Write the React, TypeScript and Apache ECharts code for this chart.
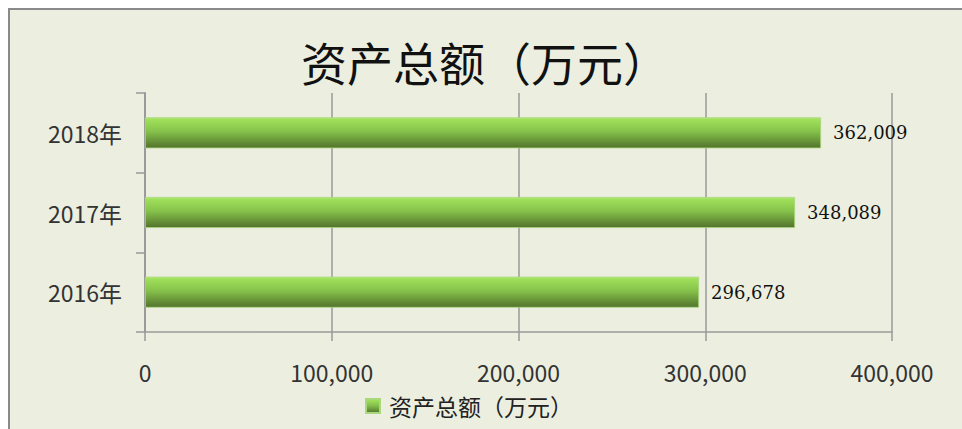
import React, { useEffect, useRef } from "react";
import * as echarts from "echarts";

const categories = ["2016年", "2017年", "2018年"];
const values = [296678, 348089, 362009];
const seriesName = "资产总额（万元）";
const titleText = "资产总额（万元）";

const fmt = (v: number) => v.toLocaleString("en-US");

export default function App() {
  const ref = useRef<HTMLDivElement>(null);
  useEffect(() => {
    if (!ref.current) return;
    const chart = echarts.init(ref.current, undefined, { renderer: "svg" });
    const barGrad = new echarts.graphic.LinearGradient(0, 0, 0, 1, [
      { offset: 0, color: "#b4ea7c" },
      { offset: 0.06, color: "#9fe05a" },
      { offset: 0.45, color: "#86c24b" },
      { offset: 1, color: "#52732c" },
    ]);
    const gray = "#9a9a9a";
    chart.setOption({
      animation: false,
      backgroundColor: "transparent",
      title: {
        text: titleText,
        left: 296,
        top: 30,
        textStyle: {
          fontFamily: "Noto Sans CJK SC",
          fontSize: 46,
          fontWeight: "normal",
          color: "#111",
          lineHeight: 52,
        },
      },
      legend: {
        left: 365,
        top: 394,
        padding: 0,
        itemWidth: 14,
        itemHeight: 14,
        icon: "rect",
        textStyle: {
          fontFamily: "Noto Sans CJK SC",
          fontSize: 23,
          lineHeight: 24,
          color: "#222",
          padding: [0, 0, 0, 4],
        },
        data: [seriesName],
      },
      grid: { left: 145, right: 70, top: 93, bottom: 97, containLabel: false },
      xAxis: {
        type: "value",
        min: 0,
        max: 400000,
        interval: 100000,
        axisLine: { show: true, lineStyle: { color: gray, width: 1.5 } },
        axisTick: { show: true, length: 9, lineStyle: { color: gray, width: 1.5 } },
        splitLine: { show: true, lineStyle: { color: gray, width: 1.5 } },
        axisLabel: {
          margin: 28,
          fontFamily: "Noto Sans CJK SC",
          fontSize: 23,
          color: "#333",
          formatter: (v: number) => fmt(v),
        },
      },
      yAxis: {
        type: "category",
        data: categories,
        axisLine: { show: true, lineStyle: { color: gray, width: 2 } },
        axisTick: { show: true, length: 9, lineStyle: { color: gray, width: 1.5 } },
        axisLabel: {
          margin: 23,
          fontFamily: "Noto Sans CJK SC",
          fontSize: 23,
          color: "#333",
        },
      },
      series: [
        {
          name: seriesName,
          type: "bar",
          data: values,
          barWidth: 31,
          itemStyle: { color: barGrad, borderColor: "#a9d77c", borderWidth: 0.8 },
          label: {
            show: true,
            position: "right",
            distance: 12,
            fontFamily: "DejaVu Serif",
            fontSize: 18,
            color: "#111",
            formatter: (p: any) => fmt(p.value),
          },
        },
      ],
    });
    return () => chart.dispose();
  }, []);

  return (
    <div
      style={{
        position: "fixed",
        left: 0,
        top: 0,
        width: 962,
        height: 429,
        overflow: "hidden",
        background: "#ffffff",
      }}
    >
      <div
        style={{
          position: "absolute",
          left: 8,
          top: 8,
          width: 1000,
          height: 500,
          background: "#ecefe0",
          border: "2px solid #8a8a8a",
        }}
      />
      <div
        ref={ref}
        style={{ position: "absolute", left: 0, top: 0, width: 962, height: 429 }}
      />
    </div>
  );
}
